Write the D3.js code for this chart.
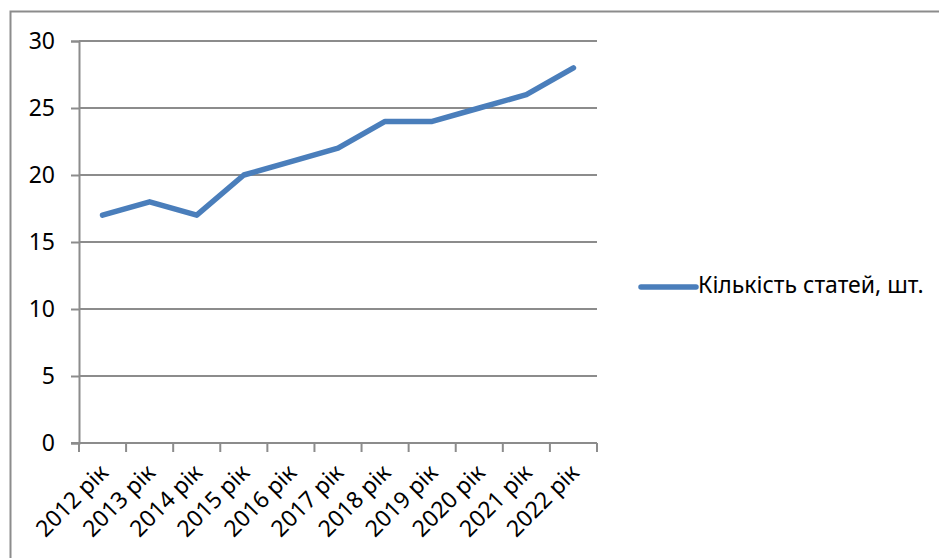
<!DOCTYPE html>
<html>
<head>
<meta charset="utf-8">
<script src="https://cdn.jsdelivr.net/npm/d3@7"></script>
<style>
  body { margin: 0; background: #fff; }
  svg text { font-family: "Noto Sans", "Open Sans", sans-serif; fill: #000; }
</style>
</head>
<body>
<div id="chart"></div>
<script>
var years = ['2012 рік', '2013 рік', '2014 рік', '2015 рік', '2016 рік', '2017 рік',
             '2018 рік', '2019 рік', '2020 рік', '2021 рік', '2022 рік'];
var articles = [17, 18, 17, 20, 21, 22, 24, 24, 25, 26, 28];
var yTicks = [0, 5, 10, 15, 20, 25, 30];
var seriesName = 'Кількість статей, шт.';

var width = 939, height = 558;
var plot = {left: 79, top: 41, right: 597, bottom: 443};
var fontSize = 23;

var svg = d3.select('#chart')
    .append('svg')
    .attr('width', width)
    .attr('height', height)
;

// outer chart border (runs off the right and bottom)
svg.append('rect')
    .attr('x', 10.5).attr('y', 11.5)
    .attr('width', width + 20).attr('height', height + 20)
    .attr('fill', 'none')
    .attr('stroke', '#8c8c8c')
    .attr('stroke-width', 2)
;

var x = d3.scaleBand()
    .domain(years)
    .range([plot.left, plot.right])
;

var y = d3.scaleLinear()
    .domain([0, 30])
    .range([plot.bottom, plot.top])
;

// y axis + labels
var yAxis = svg.append('g')
    .attr('transform', 'translate(' + plot.left + ',0)')
    .call(d3.axisLeft(y).tickValues(yTicks).tickSize(8).tickPadding(16))
;
yAxis.select('.domain').attr('stroke', '#8c8c8c').attr('stroke-width', 2);
yAxis.selectAll('.tick line').attr('stroke', '#8c8c8c').attr('stroke-width', 2);
yAxis.selectAll('.tick text')
    .attr('font-size', fontSize)
    .attr('fill', '#000')
    .style('font-family', '"Noto Sans", sans-serif');

// horizontal gridlines
svg.append('g').selectAll('line')
    .data(yTicks.filter(function (d) { return d > 0; }))
    .join('line')
    .attr('x1', plot.left).attr('x2', plot.right)
    .attr('y1', function (d) { return y(d); })
    .attr('y2', function (d) { return y(d); })
    .attr('stroke', '#8c8c8c')
    .attr('stroke-width', 2)
;

// x axis, ticks sit on the category boundaries
var xAxis = svg.append('g')
    .attr('transform', 'translate(0,' + plot.bottom + ')');
xAxis.append('line')
    .attr('x1', plot.left - 8).attr('x2', plot.right)
    .attr('stroke', '#8c8c8c').attr('stroke-width', 2);
xAxis.selectAll('.tk')
    .data(years.concat(['end']))
    .join('line')
    .attr('class', 'tk')
    .attr('x1', function (d, i) { return i < years.length ? x(d) : plot.right; })
    .attr('x2', function (d, i) { return i < years.length ? x(d) : plot.right; })
    .attr('y1', 0).attr('y2', 9)
    .attr('stroke', '#8c8c8c').attr('stroke-width', 2)
;
xAxis.selectAll('text')
    .data(years)
    .join('text')
    .attr('text-anchor', 'end')
    .attr('font-size', fontSize)
    .attr('transform', function (d) {
        return 'translate(' + (x(d) + x.bandwidth() / 2 + 7) + ',31) rotate(-45)';
    })
    .text(function (d) { return d; })
;

// series line
var line = d3.line()
    .x(function (d, i) { return x(years[i]) + x.bandwidth() / 2; })
    .y(function (d) { return y(d); });

svg.append('path')
    .datum(articles)
    .attr('d', line)
    .attr('fill', 'none')
    .attr('stroke', '#4a7ebb')
    .attr('stroke-width', 5.5)
    .attr('stroke-linejoin', 'round')
    .attr('stroke-linecap', 'round')
;

// legend
var legend = svg.append('g').attr('transform', 'translate(641,287)');
legend.append('line')
    .attr('x1', 0).attr('x2', 55)
    .attr('stroke', '#4a7ebb').attr('stroke-width', 5.5)
    .attr('stroke-linecap', 'round');
legend.append('text')
    .attr('x', 57).attr('y', 6)
    .attr('font-size', fontSize)
    .text(seriesName);
</script>
</body>
</html>
